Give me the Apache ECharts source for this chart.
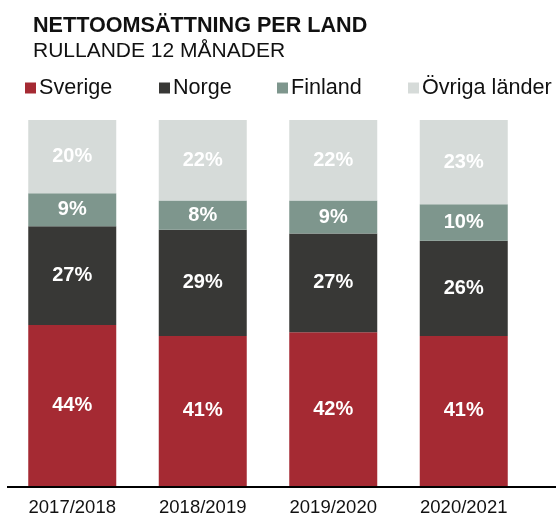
<!DOCTYPE html>
<html>
<head>
<meta charset="utf-8">
<script src="https://cdn.jsdelivr.net/npm/echarts@6/dist/echarts.min.js"></script>
<style>
  html, body { margin: 0; padding: 0; background: #fff; }
  #chart { width: 556px; height: 517px; }
</style>
</head>
<body>
<div id="chart"></div>
<script>
// nettoomsättning per land, andel i procent
const years = ['2017/2018', '2018/2019', '2019/2020', '2020/2021']
const countries = ['Sverige', 'Norge', 'Finland', 'Övriga länder']
const sverige = [44, 41, 42, 41]
const norge = [27, 29, 27, 26]
const finland = [9, 8, 9, 10]
const ovriga = [20, 22, 22, 23]

const font = 'Liberation Sans, Arial, sans-serif'
const legendX = [25, 159, 277, 408]

let chart = echarts.init(document.getElementById('chart'), null, {renderer: 'canvas'})

let serie = (name, data, color) => ({
    name: name,
    type: 'bar',
    stack: 'tot',
    data: data,
    barWidth: 88,
    itemStyle: {color: color},
    label: {
        show: true,
        position: 'inside',
        formatter: '{c}%',
        color: '#fff',
        fontFamily: font,
        fontWeight: 'bold',
        fontSize: 20
    }
})

// en legend per land, så hamnar de där de ska
let legends = countries.map((c, i) => ({
    data: [c],
    top: 77,
    left: legendX[i],
    padding: 0,
    itemWidth: 11,
    itemHeight: 11,
    icon: 'rect',
    textStyle: {fontFamily: font, fontSize: 21.6, color: '#111', padding: [0, 0, 0, -2]}
}))

chart.setOption({
    animation: false,
    title: [
        {text: 'NETTOOMSÄTTNING PER LAND', left: 28, top: 10,
            textStyle: {fontFamily: font, fontWeight: 'bold', fontSize: 21.6, color: '#111'}},
        {text: 'RULLANDE 12 MÅNADER', left: 28, top: 36,
            textStyle: {fontFamily: font, fontWeight: 'normal', fontSize: 21, color: '#111'}}
    ],
    legend: legends,
    grid: {left: 7, right: 27, top: 120, bottom: 30},
    xAxis: {
        type: 'category',
        data: years,
        axisLine: {show: false},
        axisTick: {show: false},
        axisLabel: {fontFamily: font, fontSize: 18.5, color: '#111', margin: 12}
    },
    yAxis: {
        type: 'value',
        min: 0,
        max: 100,
        show: false
    },
    graphic: [
        {type: 'line', z: 10, shape: {x1: 7, y1: 487, x2: 556, y2: 487}, style: {stroke: '#000', lineWidth: 2}}
    ],
    series: [
        serie('Sverige', sverige, '#A52A33'),
        serie('Norge', norge, '#383836'),
        serie('Finland', finland, '#7E968D'),
        serie('Övriga länder', ovriga, '#D6DBD9')
    ]
})
</script>
</body>
</html>
